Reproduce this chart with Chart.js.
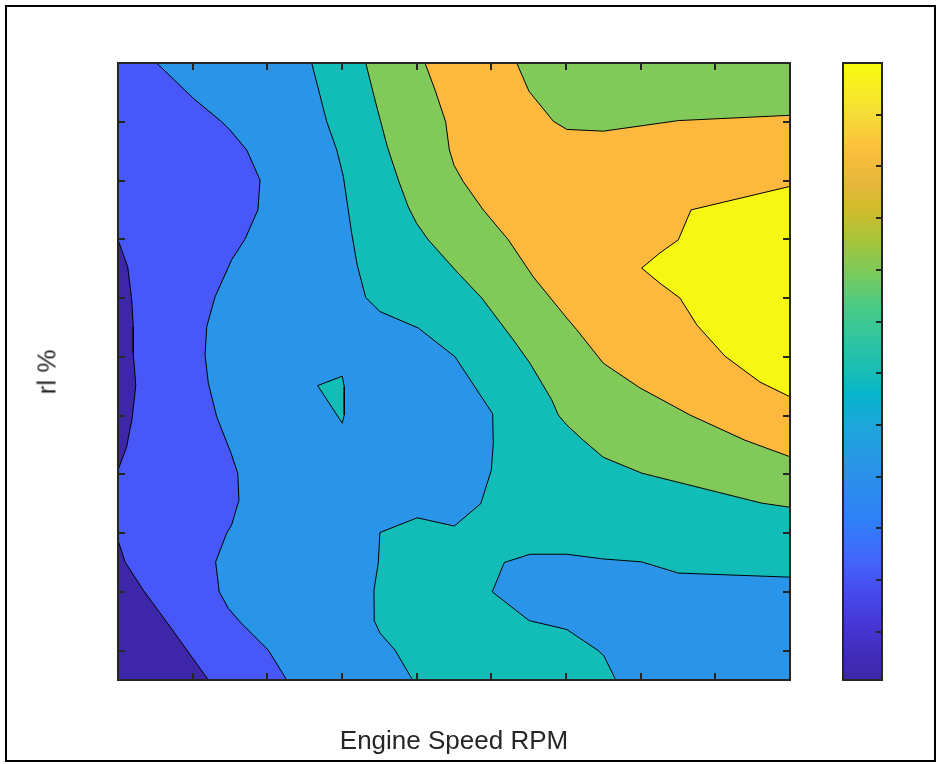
<!DOCTYPE html>
<html>
<head>
<meta charset="utf-8">
<title>rl % vs Engine Speed RPM</title>
<script src="https://cdn.jsdelivr.net/npm/chart.js@4.4.1/dist/chart.umd.min.js"></script>
<style>
  html, body { margin: 0; padding: 0; background: #fff; }
  #fig { position: relative; width: 938px; height: 764px; overflow: hidden; }
  #fig canvas { position: absolute; left: 0; top: 0; }
  .frame { position: absolute; left: 5px; top: 5px; width: 931px; height: 757px; border: 2px solid #000; box-sizing: border-box; }
  .label { position: absolute; font-family: "Liberation Sans", Arial, sans-serif; font-size: 26px; color: #262626; white-space: nowrap; }
  #xlabel { left: 454px; top: 740px; transform: translate(-50%, -50%); }
  #ylabel { left: 47px; top: 372px; transform: translate(-50%, -50%) rotate(-90deg); }
</style>
</head>
<body>
<div id="fig">
  <div class="frame"></div>
  <canvas id="map" width="938" height="764"></canvas>
  <canvas id="cbar" width="938" height="764"></canvas>
  <div class="label" id="xlabel">Engine Speed RPM</div>
  <div class="label" id="ylabel">rl %</div>
</div>
<script>
// axis limits
const rpmLimits = [1000, 5500];
const rlLimits = [5, 110];
const rpmStep = 500;
const rlStep = 10;

// contour levels (also the colour bar limits)
const levels = [0.7, 20.6, 40.5, 60.4, 80.2, 100.1, 120];
const levelStep = 10;

// iso-lines as [rpm, rl] vertices
const line01Upper = [[1000,79.9],[1065,75.3],[1092,69.7],[1102,65.1],[1102,60.6],[1119,55.2],[1096,49.8],[1058,44.7],[1000,40.7]];
const line01Lower = [[1000,28.8],[1047,25.1],[1169,20.3],[1348,14.1],[1605,5]];
const line12 = [[1259,110],[1504,104.0],[1694,100.0],[1750,98.6],[1862,95.2],[1951,90.1],[1937,85.0],[1850,80.0],[1761,76.5],[1650,70.2],[1594,65.1],[1583,60.3],[1605,55.5],[1661,49.8],[1757,43.6],[1802,40.2],[1810,35.6],[1761,31.4],[1728,30.0],[1654,25.1],[1678,20.0],[1739,17.2],[1817,14.9],[2006,10.1],[2130,5]];
const line23 = [[2297,110],[2398,100.0],[2465,95.2],[2509,90.7],[2565,81.0],[2602,75.6],[2659,70.1],[2754,67.7],[3011,64.9],[3257,60.0],[3509,50.3],[3513,45.3],[3500,40.7],[3429,35.0],[3252,31.2],[3004,32.6],[2754,30.1],[2743,24.9],[2714,20.3],[2716,15.1],[2754,13.0],[2855,10.1],[2973,5]];
const line23Low = [[5500,22.5],[4752,23.2],[4507,25.1],[4250,25.6],[4005,26.4],[3759,26.4],[3587,25.0],[3506,20.0],[3754,15.1],[4005,13.6],[4216,10.0],[4254,9.1],[4333,5]];
const line23Peak = [[2337,55.1],[2502,56.7],[2515,54.9],[2515,50.1],[2502,48.7]];
const line34 = [[2659,110],[2721,103.7],[2803,95.8],[2877,90.1],[2944,85.5],[3000,82.7],[3078,79.9],[3268,74.5],[3436,70.0],[3513,67.4],[3647,62.9],[3759,58.9],[3904,52.7],[3948,50.1],[4005,48.4],[4116,45.8],[4250,42.9],[4507,40.2],[4696,39.0],[5232,35.6],[5311,35.1],[5500,34.4]];
const line45 = [[3056,110],[3123,105.4],[3194,100.0],[3219,95.2],[3250,92.6],[3312,89.8],[3446,85.0],[3614,79.9],[3781,73.6],[4005,66.6],[4072,64.6],[4250,58.9],[4496,54.7],[4830,50.1],[5199,45.8],[5500,43.0]];
const line45Top = [[3670,110],[3752,105.2],[3915,100.1],[4005,98.7],[4250,98.4],[4752,100.2],[5500,101.1]];
const line56 = [[5500,89.0],[4837,85.0],[4752,79.9],[4630,77.7],[4507,75.1],[4630,72.5],[4763,70.0],[4877,65.4],[5065,60.1],[5299,55.7],[5500,53.2]];

// parula fill per level band
const levelColors = ['#3E26A8', '#4857F7', '#2A94E8', '#13BDB7', '#81CA5A', '#FCB93E', '#F7F714'];
const parulaStops = [
  [0.000, '#3E26A8'], [0.086, '#4535D2'], [0.141, '#4649EC'], [0.194, '#4466FC'],
  [0.259, '#2E80F8'], [0.340, '#2A93E7'], [0.410, '#1EA5DD'], [0.465, '#05B5CA'],
  [0.502, '#1ABEB5'], [0.551, '#2FC4A0'], [0.605, '#4ACB85'], [0.660, '#7BCA5B'],
  [0.713, '#A8C43B'], [0.767, '#D3BC2B'], [0.800, '#E3B73A'], [0.859, '#FDBE3D'],
  [0.919, '#F5DE36'], [1.000, '#F9FB0E']
];

const [x0, x1] = rpmLimits;
const [y0, y1] = rlLimits;

// filled bands, bottom to top
const layers = [
  { level: 1, pts: [[x0, y0], [x0, y1], [x1, y1], [x1, y0]], edge: false },
  { level: 0, pts: line01Upper },
  { level: 0, pts: [...line01Lower, [x0, y0]] },
  { level: 2, pts: [...line12, [x1, y0], [x1, y1]] },
  { level: 3, pts: [...line23, [x1, y0], [x1, y1]] },
  { level: 2, pts: [...line23Low, [x1, y0]] },
  { level: 3, pts: line23Peak },
  { level: 4, pts: [...line34, [x1, y1]] },
  { level: 5, pts: [...line45, [x1, y1]] },
  { level: 4, pts: [...line45Top, [x1, y1]] },
  { level: 6, pts: line56 }
];

const datasets = layers.map((l, i) => {
  const pts = l.pts.map(([x, y]) => ({ x, y }));
  pts.push({ ...pts[0] });
  return {
    data: pts,
    showLine: true,
    fill: 'shape',
    backgroundColor: levelColors[l.level],
    borderColor: '#000',
    borderWidth: l.edge === false ? 0 : 1,
    pointRadius: 0,
    tension: 0,
    order: layers.length - i
  };
});

// box with inward tick marks, like a MATLAB axes
function tickBox(sides, len) {
  return {
    id: 'tickBox',
    afterDraw(chart) {
      const { ctx, chartArea: a, scales } = chart;
      ctx.save();
      ctx.strokeStyle = '#262626';
      ctx.lineWidth = 2;
      ctx.beginPath();
      if (sides.includes('x')) {
        scales.x.ticks.forEach(t => {
          const px = Math.round(scales.x.getPixelForValue(t.value));
          ctx.moveTo(px, a.bottom); ctx.lineTo(px, a.bottom - len);
          ctx.moveTo(px, a.top); ctx.lineTo(px, a.top + len);
        });
      }
      scales.y.ticks.forEach(t => {
        const py = Math.round(scales.y.getPixelForValue(t.value));
        if (py <= a.top + 1 || py >= a.bottom - 1) return;
        if (sides.includes('l')) { ctx.moveTo(a.left, py); ctx.lineTo(a.left + len, py); }
        ctx.moveTo(a.right, py); ctx.lineTo(a.right - len, py);
      });
      ctx.stroke();
      ctx.strokeRect(a.left, a.top, a.right - a.left, a.bottom - a.top);
      ctx.restore();
    }
  };
}

new Chart(document.getElementById('map'), {
  type: 'scatter',
  data: { datasets },
  options: {
    responsive: false,
    animation: false,
    events: [],
    layout: { padding: { left: 118, top: 63, right: 148, bottom: 84 } },
    scales: {
      x: { type: 'linear', display: false, min: x0, max: x1, ticks: { stepSize: rpmStep } },
      y: { type: 'linear', display: false, min: y0, max: y1, ticks: { stepSize: rlStep, includeBounds: false } }
    },
    plugins: { legend: { display: false }, tooltip: { enabled: false } }
  },
  plugins: [tickBox('xl', 7)]
});

// colour bar
new Chart(document.getElementById('cbar'), {
  type: 'bar',
  data: {
    labels: [''],
    datasets: [{
      data: [[levels[0], levels[levels.length - 1]]],
      backgroundColor(c) {
        const area = c.chart.chartArea;
        if (!area) return levelColors[0];
        const g = c.chart.ctx.createLinearGradient(0, area.bottom, 0, area.top);
        parulaStops.forEach(([f, col]) => g.addColorStop(f, col));
        return g;
      },
      borderWidth: 0,
      barPercentage: 1,
      categoryPercentage: 1
    }]
  },
  options: {
    responsive: false,
    animation: false,
    events: [],
    layout: { padding: { left: 843, top: 63, right: 56, bottom: 84 } },
    scales: {
      x: { display: false },
      y: { display: false, min: levels[0], max: levels[levels.length - 1], ticks: { stepSize: levelStep, includeBounds: false } }
    },
    plugins: { legend: { display: false }, tooltip: { enabled: false } }
  },
  plugins: [tickBox('', 6)]
});
</script>
</body>
</html>
